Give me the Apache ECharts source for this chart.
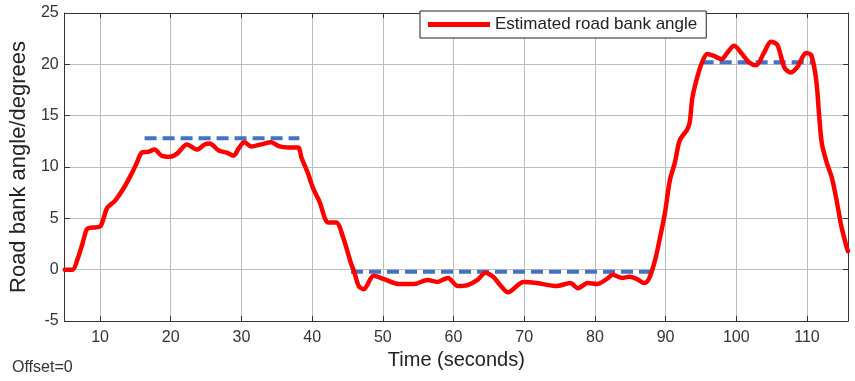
<!DOCTYPE html>
<html>
<head>
<meta charset="utf-8">
<script src="https://cdn.jsdelivr.net/npm/echarts@6/dist/echarts.min.js"></script>
<style>html,body{margin:0;padding:0;background:#fff}#c{width:855px;height:381px}</style>
</head>
<body>
<div id="c"></div>
<script>
// Estimated road bank angle (time in seconds, angle in degrees)
const timeSec = [5.0,6.1,6.8,7.5,8.2,9.0,10.0,10.5,11.0,12.1,13.4,14.5,15.2,15.9,16.9,17.7,18.7,19.9,20.9,22.3,23.7,24.8,25.5,26.8,27.9,28.9,29.6,30.4,31.4,32.8,34.2,35.4,36.6,38.0,38.5,39.4,40.1,41.0,42.3,43.4,44.4,45.5,45.9,46.6,47.3,48.7,50.1,52.3,54.4,56.3,57.7,59.2,60.6,62.0,63.4,64.5,65.6,66.6,67.7,69.9,71.8,74.6,76.5,77.6,79.0,80.3,81.7,82.5,83.8,84.9,85.9,87.0,87.7,88.5,89.2,89.9,90.6,91.3,92.0,93.0,93.4,93.8,94.5,95.1,95.9,96.9,97.9,98.7,99.7,100.7,101.8,102.8,103.9,104.9,105.8,106.8,107.7,108.6,109.9,110.6,111.3,111.7,112.1,112.8,113.5,114.2,114.9,115.6,115.8];
const bankAngle = [0,0,1.0,2.5,4.0,4.1,4.2,5.0,6.0,6.7,8.0,9.4,10.4,11.4,11.5,11.7,11.1,11.0,11.3,12.2,11.7,12.2,12.3,11.6,11.4,11.1,11.8,12.4,12.0,12.2,12.4,12.0,11.9,11.9,10.9,9.4,8.0,6.7,4.6,4.6,3.1,0.6,-0.1,-1.6,-1.9,-0.6,-0.9,-1.4,-1.4,-1.0,-1.2,-0.8,-1.6,-1.5,-1.0,-0.3,-0.7,-1.5,-2.2,-1.2,-1.3,-1.6,-1.3,-1.8,-1.3,-1.4,-0.9,-0.5,-0.8,-0.7,-0.9,-1.3,-0.8,0.9,3.1,5.5,8.7,10.4,12.6,13.6,14.3,16.8,18.8,20.1,21.0,20.8,20.5,21.1,21.8,21.1,20.2,19.9,21.1,22.2,21.9,19.7,19.2,19.7,21.1,20.9,18.5,15.2,12.3,10.4,9.0,6.7,4.1,2.2,1.8];
// Reference (true) bank angle segments
const refStart = [16.3, 45.5, 95.1];
const refEnd   = [38.2, 88.1, 110.6];
const refLevel = [12.8, -0.2, 20.2];
// Axes
const xMin = 5, xMax = 115.8;
const yMin = -5, yMax = 25, yStep = 5;
const seriesName = 'Estimated road bank angle';

const FONT = '"Liberation Sans", Arial, Helvetica, sans-serif';
const redData = timeSec.map((t, i) => [t, bankAngle[i]]);
const refSeries = refStart.map((s, i) => ({
  type: 'line', name: 'ref' + i, xAxisIndex: 0, yAxisIndex: 0,
  data: [[s, refLevel[i]], [refEnd[i], refLevel[i]]],
  symbol: 'none', silent: true, z: 3,
  lineStyle: { color: '#4472C4', width: 4, type: [12, 6] }
}));

const chart = echarts.init(document.getElementById('c'), null, { renderer: 'canvas' });
const tickLbl = v => (Math.abs(v % 10) < 1e-9 ? String(v) : '');
chart.setOption({
  animation: false,
  backgroundColor: '#ffffff',
  grid: { left: 62, right: 7, top: 13, bottom: 60, containLabel: false },
  legend: {
    data: [{ name: seriesName, icon: 'rect' }],
    left: 420, top: 11,
    itemWidth: 62, itemHeight: 5, itemGap: 10,
    padding: [5, 9, 5, 8],
    backgroundColor: '#ffffff', borderColor: '#222', borderWidth: 1,
    textStyle: { fontFamily: FONT, fontSize: 17, color: '#222', padding: [0, 0, 0, 0] }
  },
  xAxis: [{
    type: 'value', min: xMin, max: xMax, splitNumber: 11, position: 'bottom',
    name: 'Time (seconds)', nameLocation: 'middle', nameGap: 24,
    nameTextStyle: { fontFamily: FONT, fontSize: 20, color: '#222' },
    axisLine: { show: true, onZero: false, lineStyle: { color: '#333', width: 1 } },
    axisTick: { show: true, inside: true, length: 5, lineStyle: { color: '#333' } },
    axisLabel: { fontFamily: FONT, fontSize: 16, color: '#333', margin: 9, showMinLabel: false, showMaxLabel: false, formatter: tickLbl },
    splitLine: { show: true, lineStyle: { color: '#bdbdbd', width: 1 } }
  }, {
    type: 'value', min: xMin, max: xMax, splitNumber: 11, position: 'top',
    axisLine: { show: true, onZero: false, lineStyle: { color: '#333', width: 1 } },
    axisTick: { show: true, inside: true, length: 5, lineStyle: { color: '#333' } },
    axisLabel: { show: false }, splitLine: { show: false }
  }],
  yAxis: [{
    type: 'value', min: yMin, max: yMax, interval: yStep, position: 'left',
    name: 'Road bank angle/degrees', nameLocation: 'middle', nameGap: 20, nameRotate: 90,
    nameTextStyle: { fontFamily: FONT, fontSize: 22, color: '#222' },
    axisLine: { show: true, onZero: false, lineStyle: { color: '#333', width: 1 } },
    axisTick: { show: true, inside: true, length: 5, lineStyle: { color: '#333' } },
    axisLabel: { fontFamily: FONT, fontSize: 16, color: '#333', margin: 6 },
    splitLine: { show: true, lineStyle: { color: '#bdbdbd', width: 1 } }
  }, {
    type: 'value', min: yMin, max: yMax, interval: yStep, position: 'right',
    axisLine: { show: true, onZero: false, lineStyle: { color: '#333', width: 1 } },
    axisTick: { show: true, inside: true, length: 5, lineStyle: { color: '#333' } },
    axisLabel: { show: false }, splitLine: { show: false }
  }],
  graphic: [{
    type: 'text', left: 12, top: 360,
    style: { text: 'Offset=0', font: '16px ' + FONT, fill: '#333' }
  }],
  series: [{
    type: 'line', name: seriesName, xAxisIndex: 0, yAxisIndex: 0,
    data: redData, symbol: 'none', z: 4, smooth: 0.3,
    itemStyle: { color: '#ff0000' },
    lineStyle: { color: '#ff0000', width: 4.5, join: 'round', cap: 'round' }
  }].concat(refSeries)
});
</script>
</body>
</html>
